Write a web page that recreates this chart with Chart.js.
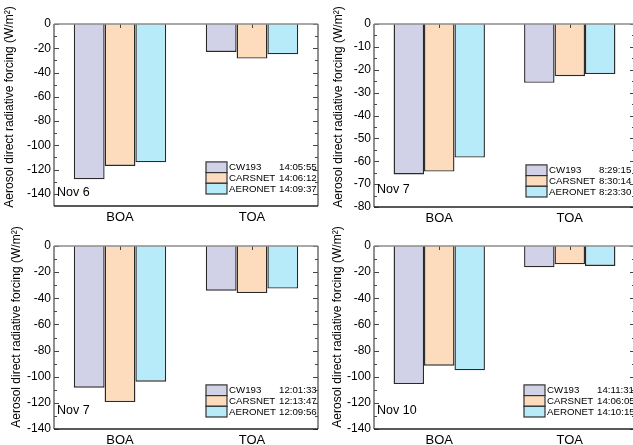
<!DOCTYPE html>
<html><head><meta charset="utf-8">
<script src="https://cdn.jsdelivr.net/npm/chart.js@4/dist/chart.umd.min.js"></script>
<style>
html,body{margin:0;padding:0;background:#fff;overflow:hidden;width:633px;height:445px;}
.p{position:absolute;}
</style></head><body>
<div class="p" style="left:0;top:0;width:320px;height:232px"><canvas id="c1"></canvas></div>
<div class="p" style="left:316px;top:0;width:320px;height:232px"><canvas id="c2"></canvas></div>
<div class="p" style="left:0;top:222px;width:320px;height:223px"><canvas id="c3"></canvas></div>
<div class="p" style="left:316px;top:222px;width:320px;height:223px"><canvas id="c4"></canvas></div>
<script>
// ---- data ----
const categories = ['BOA', 'TOA'];
const seriesNames = ['CW193', 'CARSNET', 'AERONET'];
const panelLabels = ['Nov 6', 'Nov 7', 'Nov 7', 'Nov 10'];

const p1CW193 = [-128, -23];
const p1CARSNET = [-117, -28.5];
const p1AERONET = [-114, -25];
const p1Times = ['14:05:55', '14:06:12', '14:09:37'];

const p2CW193 = [-65.8, -25.7];
const p2CARSNET = [-64.5, -22.8];
const p2AERONET = [-58.4, -21.9];
const p2Times = ['8:29:15', '8:30:14', '8:23:30'];

const p3CW193 = [-108.4, -34.2];
const p3CARSNET = [-119.4, -36];
const p3AERONET = [-103.8, -32.6];
const p3Times = ['12:01:33', '12:13:47', '12:09:56'];

const p4CW193 = [-105.6, -16.3];
const p4CARSNET = [-91.6, -14];
const p4AERONET = [-95.1, -15.3];
const p4Times = ['14:11:31', '14:06:05', '14:10:15'];

const yTicks140 = [0, -20, -40, -60, -80, -100, -120, -140];
const yTicks80 = [0, -10, -20, -30, -40, -50, -60, -70, -80];
const yTitle = 'Aerosol direct radiative forcing (W/m\u00B2)';

// ---- styles ----
const colors = ['#d1d1e8', '#fddcbd', '#b7ebfa'];
const FONT = 'Arial, "Liberation Sans", sans-serif';

const framePlugin = {
  id: 'frame',
  afterDatasetsDraw(chart, args, o) {
    const {ctx, chartArea: a, scales: {x, y}} = chart;
    ctx.save();
    const line = (x1, y1, x2, y2) => { ctx.beginPath(); ctx.moveTo(x1, y1); ctx.lineTo(x2, y2); ctx.stroke(); };
    // ticks
    ctx.strokeStyle = '#444'; ctx.lineWidth = 1;
    const major = o.ticks;
    for (let i = 0; i < major.length; i++) {
      const py = Math.round(y.getPixelForValue(major[i])) + 0.5;
      line(a.left, py, a.left + 5, py);
      line(a.right, py, a.right - 5, py);
      if (i < major.length - 1) {
        const pm = Math.round(y.getPixelForValue((major[i] + major[i + 1]) / 2)) + 0.5;
        line(a.left, pm, a.left + 3, pm);
        line(a.right, pm, a.right - 3, pm);
      }
    }
    for (let i = 0; i < categories.length; i++) {
      const px = Math.round(x.getPixelForValue(i)) + 0.5;
      line(px, a.top, px, a.top + 4);
    }
    // frame
    ctx.lineWidth = 1.3;
    ctx.strokeStyle = '#555';
    line(a.left, a.top, a.left, a.bottom);
    line(a.right, a.top, a.right, a.bottom);
    ctx.strokeStyle = '#222';
    line(a.left, a.bottom, a.right, a.bottom);
    ctx.strokeStyle = '#8c8c8c';
    ctx.lineWidth = 1.6;
    line(a.left, a.top, a.right, a.top);

    // legend
    ctx.font = '9.7px ' + FONT;
    ctx.textBaseline = 'middle';
    ctx.fillStyle = '#000';
    const bx = a.right - o.legRight, rh = 10.7;
    const by0 = a.bottom - o.legBottom - rh * 3;
    for (let i = 0; i < 3; i++) {
      const by = by0 + i * rh;
      ctx.fillStyle = colors[i];
      ctx.fillRect(bx, by, 21, rh);
      ctx.strokeStyle = '#333'; ctx.lineWidth = 1.2;
      ctx.strokeRect(bx, by, 21, rh);
      ctx.fillStyle = '#000';
      ctx.textAlign = 'left';
      ctx.fillText(seriesNames[i], bx + 23, by + rh / 2 + 0.5);
      ctx.fillText(o.times[i], bx + 73, by + rh / 2 + 0.5);
    }
    // panel label
    ctx.font = '12.5px ' + FONT;
    ctx.fillText(o.label, a.left + 3, a.bottom - o.labelUp);
    // y title
    ctx.translate(o.titleX, o.titleY);
    ctx.rotate(-Math.PI / 2);
    ctx.textAlign = 'center';
    ctx.font = '12px ' + FONT;
    ctx.fillText(yTitle, 0, 0);
    ctx.restore();
  }
};

function makeChart(id, s1, s2, s3, ticks, min, yWidth, xHeight, o) {
  const vals = [s1, s2, s3];
  new Chart(document.getElementById(id), {
    type: 'bar',
    data: {
      labels: categories,
      datasets: seriesNames.map((n, i) => ({
        label: n, data: vals[i], backgroundColor: colors[i],
        borderColor: '#2a2a2a', borderWidth: 1.4, borderSkipped: 'start',
        categoryPercentage: 0.7, barPercentage: 1.0
      }))
    },
    options: {
      responsive: true, maintainAspectRatio: false, animation: false,
      layout: {padding: {top: 24, right: o.padRight, left: 0, bottom: 0}},
      plugins: {legend: {display: false}, tooltip: {enabled: false}, frame: Object.assign({ticks}, o)},
      scales: {
        x: {
          grid: {display: false, drawTicks: false}, border: {display: false},
          ticks: {color: '#000', font: {size: 13, family: FONT}, padding: 4},
          afterFit: s => { s.height = xHeight; }
        },
        y: {
          min: min, max: 0,
          grid: {display: false, drawTicks: false}, border: {display: false},
          ticks: {color: '#000', font: {size: 12, family: FONT}, padding: 3},
          afterBuildTicks: s => { s.ticks = ticks.map(v => ({value: v})); },
          afterFit: s => { s.width = yWidth; }
        }
      }
    },
    plugins: [framePlugin]
  });
}

makeChart('c1', p1CW193, p1CARSNET, p1AERONET, yTicks140, -150, 54, 26,
  {times: p1Times, label: panelLabels[0], legRight: 112, legBottom: 12, labelUp: 13, titleX: 10, titleY: 107, padRight: 2});
makeChart('c2', p2CW193, p2CARSNET, p2AERONET, yTicks80, -80, 58, 25,
  {times: p2Times, label: panelLabels[1], legRight: 109, legBottom: 10, labelUp: 17, titleX: 23, titleY: 107, padRight: 1});
makeChart('c3', p3CW193, p3CARSNET, p3AERONET, yTicks140, -140, 54, 16,
  {times: p3Times, label: panelLabels[2], legRight: 112, legBottom: 12, labelUp: 18, titleX: 17, titleY: 105, padRight: 2});
makeChart('c4', p4CW193, p4CARSNET, p4AERONET, yTicks140, -140, 58, 16,
  {times: p4Times, label: panelLabels[3], legRight: 111, legBottom: 12, labelUp: 18, titleX: 22, titleY: 105, padRight: 1});
</script>
</body></html>
